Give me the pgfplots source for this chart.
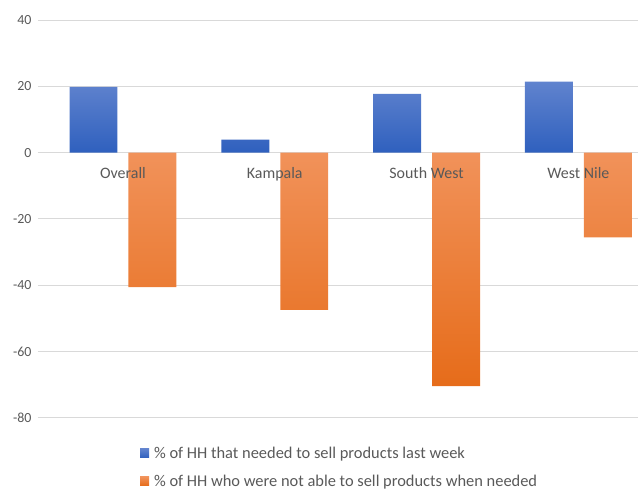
\documentclass[border=0pt]{standalone}
\usepackage{pgfplots}
\pgfplotsset{compat=1.18}
\usepackage{fontspec}
\setmainfont{Carlito}

\definecolor{txtgray}{RGB}{89,89,89}
\definecolor{gridgray}{RGB}{217,217,217}
\definecolor{blueTop}{RGB}{96,131,206}
\definecolor{blueBot}{RGB}{47,96,190}
\definecolor{orTop}{RGB}{241,146,90}
\definecolor{orBot}{RGB}{230,108,26}

\begin{document}
\begin{tikzpicture}
% fixed page frame: 638 x 486
\path (-38bp,-68bp) rectangle (600bp,418bp);
\begin{axis}[
  at={(0,0)}, anchor=south west,
  scale only axis,
  width=600bp, height=398bp,
  ybar, bar width=48bp, ybar=11bp,
  xmin=-0.56, xmax=3.39,
  ymin=-80, ymax=40,
  ytick={-80,-60,...,40},
  xtick=\empty,
  axis line style={draw=none},
  major tick length=0pt,
  ymajorgrids, grid style={gridgray, line width=0.9bp},
  /pgf/number format/assume math mode=true,
  tick label style={font=\fontsize{14}{16}\selectfont, text=txtgray},
  yticklabel style={xshift=-3bp},
  legend style={at={(0.17,0)}, anchor=north west, yshift=-27bp,
    draw=none, fill=none, inner sep=0pt, row sep=11bp,
    font=\fontsize{16.5}{19}\selectfont, text=txtgray,
    nodes={inner xsep=5bp}},
  legend cell align=left,
  legend image code/.code={\fill[#1] (0bp,-4.5bp) rectangle (9bp,4.5bp);},
  clip=false,
]
\addplot[draw=none, top color=blueTop, bottom color=blueBot] coordinates {(0,19.8) (1,3.9) (2,17.7) (3,21.4)};
\addplot[draw=none, top color=orTop, bottom color=orBot] coordinates {(0,-40.6) (1,-47.5) (2,-70.5) (3,-25.6)};
\legend{\% of HH that needed to sell products last week,\% of HH who were not able to sell products when needed}
\foreach \i/\lab in {0/Overall,1/Kampala,2/South West,3/West Nile}{
  \edef\tmp{\noexpand\node[anchor=base, yshift=-26bp, font=\noexpand\fontsize{16}{19}\noexpand\selectfont, text=txtgray, inner sep=0pt] at (axis cs:\i,0) {\lab};}
  \tmp
}
\end{axis}
\end{tikzpicture}
\end{document}
